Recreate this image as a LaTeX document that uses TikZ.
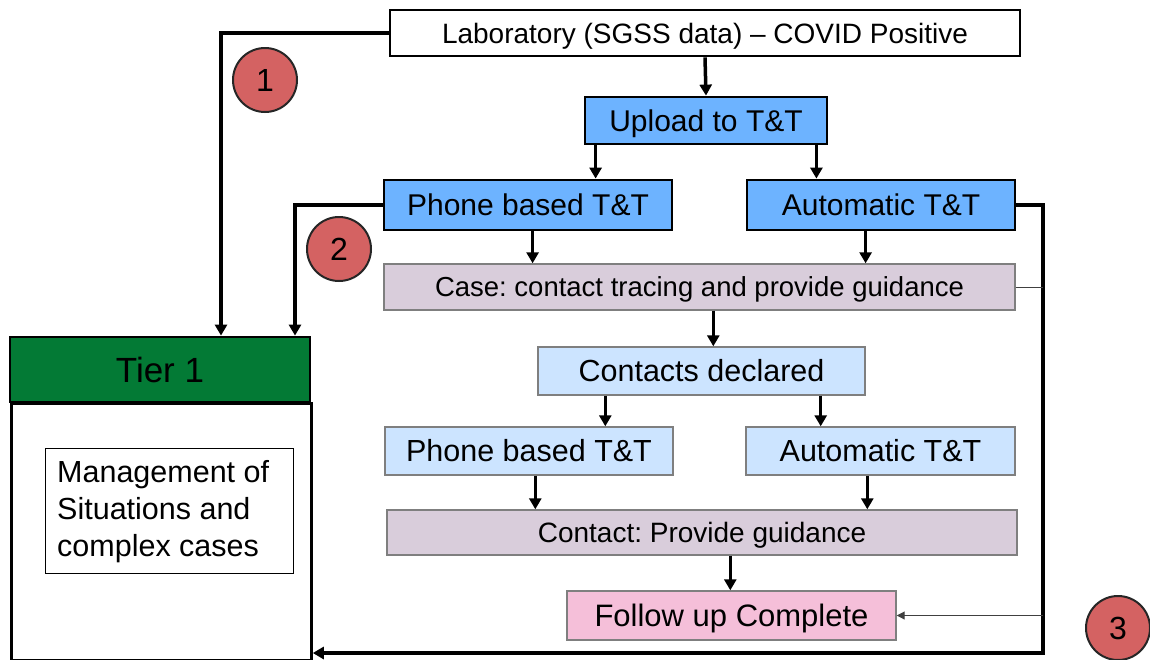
\documentclass[tikz,border=0pt]{standalone}
\usepackage{fontspec}
\setmainfont{Liberation Sans}
\usetikzlibrary{arrows.meta}
\definecolor{bluebox}{HTML}{6DB3FF}
\definecolor{lightblue}{HTML}{CCE4FF}
\definecolor{lavender}{HTML}{D9CDDB}
\definecolor{pinkbox}{HTML}{F5BFD9}
\definecolor{tiergreen}{HTML}{037A35}
\definecolor{circred}{HTML}{D46262}
\definecolor{thingray}{HTML}{7F7F7F}
\newcommand{\fs}[1]{\fontsize{#1}{#1}\selectfont\frenchspacing}
\tikzset{
  base/.style={inner sep=0pt, align=center, text=black, text depth=0pt},
  strongbox/.style={base, draw=black, line width=2.8pt, fill=bluebox},
  whitebox/.style={base, draw=black, line width=2.8pt, fill=white},
  softblue/.style={base, draw=thingray, line width=1.4pt, fill=lightblue},
  lavbox/.style={base, draw=thingray, line width=1.4pt, fill=lavender},
  pinkstyle/.style={base, draw=thingray, line width=1.4pt, fill=pinkbox},
  numcirc/.style={circle, draw=black!85, line width=2pt, fill=circred, minimum size=64pt, inner sep=0pt, font=\fs{32}, text height=23pt, text depth=0pt},
  arr/.style={line width=3.5pt, -{Triangle[width=12pt,length=11pt]}},
  thinline/.style={line width=1pt, draw=black!75},
  thinarr/.style={line width=1pt, draw=black!75, -{Triangle[width=8pt,length=8pt]}},
}
\begin{document}
\begin{tikzpicture}[x=1pt,y=-1pt]
\useasboundingbox (0,0) rectangle (1150,659);
\fill[white] (0,0) rectangle (1150,659);

% nodes
\node[whitebox, minimum width=630pt, minimum height=46pt, font=\fs{28}, text height=20pt] (lab) at (705,33) {Laboratory (SGSS data) – COVID Positive};
\node[strongbox, minimum width=242pt, minimum height=47pt, font=\fs{30}, text height=21.5pt] (upload) at (706,120.5) {Upload to T\&T};
\node[strongbox, minimum width=288pt, minimum height=50pt, font=\fs{30}, text height=21.5pt] (phoneA) at (528,205) {Phone based T\&T};
\node[strongbox, minimum width=268pt, minimum height=50pt, font=\fs{30}, text height=21.5pt] (autoA) at (881,205) {Automatic T\&T};
\node[lavbox, minimum width=631pt, minimum height=46pt, font=\fs{27.5}, text height=19.7pt] (case) at (699.5,287) {Case: contact tracing and provide guidance};
\node[softblue, minimum width=327pt, minimum height=48pt, font=\fs{30.5}, text height=21.8pt] (contacts) at (701.5,371) {Contacts declared};
\node[softblue, minimum width=288pt, minimum height=48pt, font=\fs{30.5}, text height=21.8pt] (phoneB) at (529,451) {Phone based T\&T};
\node[softblue, minimum width=269pt, minimum height=48pt, font=\fs{30.5}, text height=21.8pt] (autoB) at (880.5,451) {Automatic T\&T};
\node[lavbox, minimum width=630pt, minimum height=45pt, font=\fs{28}, text height=20pt] (contact) at (702,532.5) {Contact: Provide guidance};
\node[pinkstyle, minimum width=329pt, minimum height=49pt, font=\fs{31}, text height=22.2pt] (follow) at (731.5,615.5) {Follow up Complete};

% Tier 1
\node[base, draw=black, line width=2.8pt, fill=white, minimum width=300pt, minimum height=257pt, anchor=north west] (tierbody) at (10,402) {};
\node[base, draw=black, line width=2.8pt, fill=tiergreen, minimum width=300pt, minimum height=65pt, font=\fs{35}, text height=25pt] (tierhead) at (160,369.5) {Tier 1};
\node[base, draw=black, line width=1.2pt, fill=white, minimum width=248pt, minimum height=125pt, anchor=north west] (mgmt) at (45,448) {};
\node[base, align=left, anchor=west, font=\fontsize{30.5}{37}\selectfont, text depth=6pt] (mgmttext) at (57,511) {Management of\\Situations and\\complex cases};

% circles
\node[numcirc] (c1) at (265,80) {1};
\node[numcirc] (c2) at (339,249) {2};
\node[numcirc] (c3) at (1118,628) {3};

% vertical flow arrows
\draw[arr] (lab.south) -- (upload.north);
\draw[arr] ([xshift=12pt]upload.south west) coordinate (u1) -- (u1 |- phoneA.north);
\draw[arr] ([xshift=-12pt]upload.south east) coordinate (u2) -- (u2 |- autoA.north);
\draw[arr] ([xshift=150pt]phoneA.south west) coordinate (p1) -- (p1 |- case.north);
\draw[arr] ([xshift=120pt]autoA.south west) coordinate (a1) -- (a1 |- case.north);
\draw[arr] ([xshift=330pt]case.south west) coordinate (k1) -- (k1 |- contacts.north);
\draw[arr] ([xshift=68pt]contacts.south west) coordinate (d1) -- (d1 |- phoneB.north);
\draw[arr] ([xshift=-45pt]contacts.south east) coordinate (d2) -- (d2 |- autoB.north);
\draw[arr] ([xshift=151pt]phoneB.south west) coordinate (p2) -- (p2 |- contact.north);
\draw[arr] ([xshift=122pt]autoB.south west) coordinate (a2) -- (a2 |- contact.north);
\draw[arr] ([xshift=344pt]contact.south west) coordinate (f1) -- (f1 |- follow.north);

% routes to Tier 1
\coordinate (r1) at (221,33);
\coordinate (r2) at (295,205);
\coordinate (r3) at (1043,205);
\coordinate (r4) at (1043,653);
\draw[arr] (lab.west) -- (r1) -- (r1 |- tierhead.north);
\draw[arr] (phoneA.west) -- (r2) -- (r2 |- tierhead.north);
\draw[arr] (autoA.east) -- (r3) -- (r4) -- (r4 -| tierbody.east);
\draw[thinline] (case.east) -- (case.east -| r3);
\draw[thinarr] (r3 |- follow.east) -- (follow.east);
\end{tikzpicture}
\end{document}
